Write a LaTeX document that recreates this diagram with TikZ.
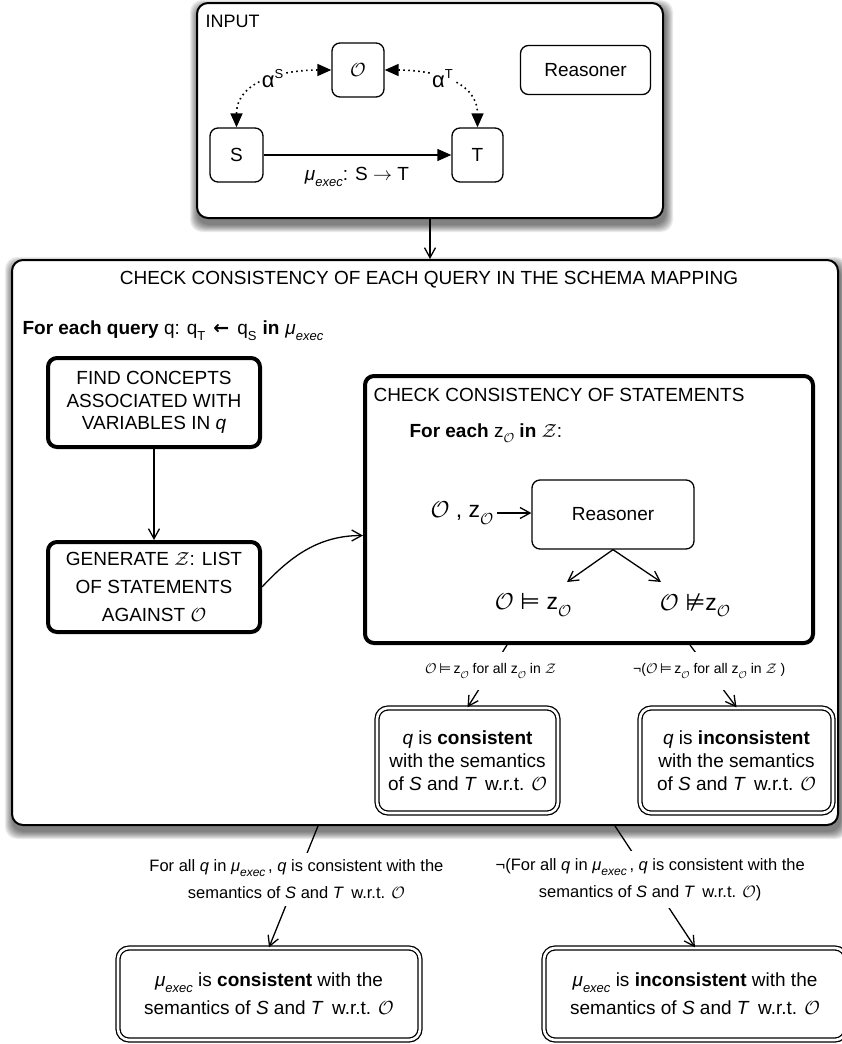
\RequirePackage{fix-cm}
\documentclass[tikz,border=0pt]{standalone}
\usepackage{fontspec}
\setmainfont{Liberation Sans}
\newfontfamily\symfont{DejaVu Sans}
\usetikzlibrary{arrows.meta}
\pgfdeclarelayer{background}
\pgfsetlayers{background,main}

% font size helper, lowered small text, recurring symbols
\newcommand\fsz[2]{\fontsize{#1}{#2}\selectfont}
\newcommand\dn[2]{\raisebox{-0.3em}{\fsz{#1}{#1}#2}}
\newcommand\cO{$\mathcal{O}$}
\newcommand\mexec[1]{\textit{μ}\dn{#1}{\itshape exec}}
\newcommand\ent{{\symfont ⊨}}
\newcommand\nent{{\symfont ⊭}}

\tikzset{
  solidtip/.tip={Triangle[length=14pt,width=12pt]},
  opentip/.tip={Straight Barb[length=10pt,width=11pt]},
  box/.style={draw, rounded corners=8pt, line width=1.3pt, fill=white, align=center, inner sep=0pt},
  heavybox/.style={draw, rounded corners=9pt, line width=4pt, fill=white, align=center, inner sep=0pt},
  framebox/.style={draw, rounded corners=11pt, line width=2pt, fill=white, inner sep=0pt},
  dblbox/.style={draw, rounded corners=11pt, double, double distance=2.6pt, line width=1.3pt,
                 fill=white, align=center, inner sep=0pt},
  link/.style={line width=1.3pt, -opentip},
  dotlink/.style={line width=1.6pt, dash pattern=on 1.6pt off 3.4pt, solidtip-solidtip},
  edgelabel/.style={fill=white, align=center},
}

\begin{document}
\begin{tikzpicture}[x=1pt, y=-1pt, every node/.style={font=\fsz{19}{23}}]
\useasboundingbox (0,0) rectangle (841,1044);

% ---------- input panel ----------
\node[framebox, minimum width=466, minimum height=215] (input) at (430,110.5) {};
\node[anchor=west, font=\fsz{18}{22}] (inputtitle) at (202,21) {INPUT};
\node[box, minimum width=52, minimum height=54] (onto) at (358,70) {\cO};
\node[box, minimum width=130, minimum height=49] (reasA) at (585.5,70) {Reasoner};
\node[box, minimum width=53, minimum height=54] (src) at (236.5,155) {S};
\node[box, minimum width=51, minimum height=54] (tgt) at (477.5,155) {T};
\node (mulabel) at (357,177) {\mexec{13}: S $\rightarrow$ T};

\draw[line width=1.3pt, -solidtip] (src) -- (tgt);
\draw[dotlink] (src.north) .. controls +(0,-48) and +(-45,0) .. (onto.west)
  node[pos=0.55, fill=white, inner sep=1pt, font=\fsz{22}{24}] (alphaS) {α\raisebox{9pt}{\fsz{13}{13}S}};
\draw[dotlink] (onto.east) .. controls +(45,0) and +(0,-48) .. (tgt.north)
  node[pos=0.45, fill=white, inner sep=1pt, font=\fsz{22}{24}] (alphaT) {α\raisebox{9pt}{\fsz{13}{13}T}};

% ---------- main panel ----------
\node[framebox, minimum width=826, minimum height=565] (main) at (425,542.5) {};
\draw[link] (input.south) -- (input.south |- main.north);
\node (maintitle) at (429,280) {CHECK CONSISTENCY OF EACH QUERY IN THE SCHEMA MAPPING};
\node[anchor=west] (query) at (19,331)
  {\textbf{For each query} q: q\dn{13}{T}\hspace{8pt}{\symfont\bfseries ←}\hspace{8pt}q\dn{13}{S}\hspace{6pt}\textbf{in}\hspace{6pt}\mexec{13}};

\node[heavybox, minimum width=212, minimum height=89, font=\fsz{19}{22.5}] (find) at (154,402.5)
  {FIND CONCEPTS\\ASSOCIATED WITH\\VARIABLES IN \textit{q}};
\node[heavybox, minimum width=212, minimum height=90, font=\fsz{19}{28}] (gen) at (154,587)
  {GENERATE $\mathcal{Z}$: LIST\\OF STATEMENTS\\AGAINST \cO};

\node[heavybox, minimum width=448, minimum height=267] (check) at (589,509.5) {};
\node[anchor=west] (checktitle) at (370,395) {CHECK CONSISTENCY OF STATEMENTS};
\node[anchor=west] (foreach) at (406,433) {\textbf{For each} z\dn{13}{\cO} \textbf{in} $\mathcal{Z}$:};
\node[box, minimum width=162, minimum height=69] (reasB) at (613,514.5) {Reasoner};
\node[font=\fsz{23}{26}] (oz) at (462,513) {\cO\ , z\dn{16}{\cO}};
\node[font=\fsz{23}{26}] (entailed) at (533,605) {\cO\ \ent\ z\dn{16}{\cO}};
\node[font=\fsz{23}{26}] (notentailed) at (695,605) {\cO\ \nent z\dn{16}{\cO}};
\coordinate (entTip) at (567,582);
\coordinate (nentTip) at (661,582);

\node[dblbox, minimum width=181, minimum height=105] (qc) at (467.5,760.5)
  {\textit{q} is \textbf{consistent}\\with the semantics\\of \textit{S} and \textit{T}\, w.r.t. \cO};
\node[dblbox, minimum width=193, minimum height=105] (qi) at (736.5,760.5)
  {\textit{q} is \textbf{inconsistent}\\with the semantics\\of \textit{S} and \textit{T}\, w.r.t. \cO};

% ---------- final verdicts ----------
\node[dblbox, minimum width=302, minimum height=92, font=\fsz{19}{28}] (lb) at (269,994)
  {\mexec{13} is \textbf{consistent} with the\\semantics of \textit{S} and \textit{T}\, w.r.t. \cO};
\node[dblbox, minimum width=302, minimum height=92, font=\fsz{19}{28}] (rb) at (695,994)
  {\mexec{13} is \textbf{inconsistent} with the\\semantics of \textit{S} and \textit{T}\, w.r.t. \cO};

% ---------- connectors ----------
\draw[link] (find) -- (gen);
\draw[link] (gen.east) .. controls +(28,-30) and +(-45,0) .. ([yshift=-26pt]check.west);
\draw[link] (oz.east) -- (oz.east -| reasB.west);
\draw[link] (reasB.south) -- (entTip);
\draw[link] (reasB.south) -- (nentTip);

\draw[link] ([xshift=-82pt]check.south) -- (qc.north)
  node[edgelabel, pos=0.415, inner xsep=3pt, inner ysep=12pt, font=\fsz{14}{16}] (lblA)
  {\cO\,\ent\,z\dn{10}{\cO} for all z\dn{10}{\cO} in $\mathcal{Z}$};
\draw[link] ([xshift=101pt]check.south) -- (qi.north)
  node[edgelabel, pos=0.415, inner xsep=3pt, inner ysep=12pt, font=\fsz{14}{16}] (lblB)
  {¬(\cO\,\ent\,z\dn{10}{\cO} for all z\dn{10}{\cO} in $\mathcal{Z}$ )};

\draw[link] ([xshift=-107pt]main.south) -- (lb.north)
  node[edgelabel, pos=0.44, inner xsep=4pt, inner ysep=7pt, font=\fsz{16.5}{27}] (lblC)
  {For all \textit{q} in \mexec{12}\,, \textit{q} is consistent with the\\semantics of \textit{S} and \textit{T}\, w.r.t. \cO};
\draw[link] ([xshift=190pt]main.south) -- (rb.north)
  node[edgelabel, pos=0.44, inner xsep=4pt, inner ysep=7pt, font=\fsz{16.5}{27}] (lblD)
  {¬(For all \textit{q} in \mexec{12}\,, \textit{q} is consistent with the\\semantics of \textit{S} and \textit{T}\, w.r.t. \cO)};

% ---------- page and soft drop shadows ----------
\begin{pgfonlayer}{background}
  \fill[white] (0,0) rectangle (841,1044);
  \foreach \nd in {input,main}{
    \foreach \k in {1,...,8}{
      \fill[black, opacity=0.08, rounded corners=12pt]
        ([shift={(-\k+2,-\k+6)}]\nd.north west) rectangle ([shift={(\k+1,\k+5)}]\nd.south east);
    }
  }
\end{pgfonlayer}
\end{tikzpicture}
\end{document}
